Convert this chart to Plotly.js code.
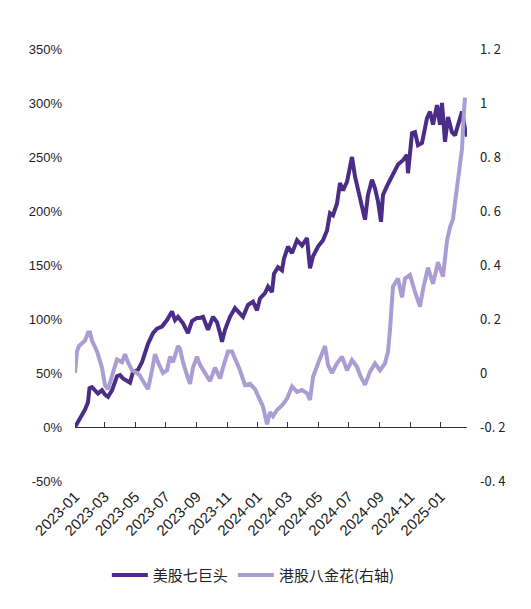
<!DOCTYPE html>
<html>
<head>
<meta charset="utf-8">
<script src="https://cdn.plot.ly/plotly-3.0.1.min.js"></script>
<style>
html,body{margin:0;padding:0;background:#fff;}
#chart{width:531px;height:609px;}
</style>
</head>
<body>
<div id="chart"></div>
<script>
// 美股七巨头 (left axis, %)
const usDates = ['2023-01-01','2023-01-11','2023-01-21','2023-01-27','2023-01-30','2023-02-04','2023-02-10','2023-02-16','2023-02-24','2023-03-02','2023-03-08','2023-03-16','2023-03-26','2023-04-01','2023-04-07','2023-04-15','2023-04-21','2023-04-27','2023-05-07','2023-05-15','2023-05-21','2023-05-27','2023-06-06','2023-06-14','2023-06-24','2023-07-04','2023-07-14','2023-07-20','2023-07-26','2023-08-05','2023-08-15','2023-08-23','2023-09-02','2023-09-08','2023-09-14','2023-09-24','2023-10-04','2023-10-12','2023-10-18','2023-10-22','2023-10-28','2023-11-07','2023-11-17','2023-11-27','2023-12-03','2023-12-13','2023-12-23','2023-12-31','2024-01-06','2024-01-16','2024-01-22','2024-01-30','2024-02-03','2024-02-11','2024-02-19','2024-02-23','2024-03-02','2024-03-10','2024-03-20','2024-03-30','2024-04-09','2024-04-15','2024-04-21','2024-05-01','2024-05-11','2024-05-19','2024-05-25','2024-05-31','2024-06-08','2024-06-14','2024-06-20','2024-06-28','2024-07-04','2024-07-08','2024-07-14','2024-07-20','2024-07-26','2024-08-03','2024-08-09','2024-08-17','2024-08-23','2024-08-29','2024-09-04','2024-09-08','2024-09-18','2024-09-28','2024-10-08','2024-10-18','2024-10-26','2024-10-28','2024-11-01','2024-11-05','2024-11-11','2024-11-17','2024-11-25','2024-12-01','2024-12-05','2024-12-11','2024-12-17','2024-12-25','2024-12-31','2025-01-04','2025-01-10','2025-01-16','2025-01-24','2025-01-30','2025-02-05','2025-02-13','2025-02-19','2025-02-23'];
const usValues = [0,8,16,23,36,37,34,31,34,30,28,34,47,48,45,43,41,51,53,60,70,77,87,91,93,99,107,99,102,96,87,98,101,101,102,90,102,97,87,79,90,102,110,105,102,113,116,108,119,124,130,125,142,148,145,156,167,161,173,168,175,147,158,167,173,182,198,196,207,226,219,227,239,250,232,220,205,192,215,229,221,209,190,215,225,235,243,247,252,235,255,272,273,261,263,276,286,292,280,298,280,300,264,287,273,270,280,292,276,269];

// 港股八金花 (right axis)
const hkDates = ['2023-01-01','2023-01-05','2023-01-09','2023-01-15','2023-01-21','2023-01-27','2023-01-31','2023-02-04','2023-02-14','2023-02-24','2023-03-02','2023-03-08','2023-03-16','2023-03-26','2023-04-05','2023-04-11','2023-04-17','2023-04-25','2023-05-05','2023-05-11','2023-05-17','2023-05-27','2023-06-04','2023-06-10','2023-06-16','2023-06-26','2023-07-04','2023-07-10','2023-07-16','2023-07-26','2023-07-30','2023-08-05','2023-08-15','2023-08-19','2023-08-25','2023-09-02','2023-09-08','2023-09-18','2023-09-28','2023-10-08','2023-10-18','2023-10-24','2023-11-03','2023-11-11','2023-11-17','2023-11-27','2023-12-07','2023-12-17','2023-12-27','2024-01-06','2024-01-12','2024-01-20','2024-01-26','2024-02-01','2024-02-09','2024-02-19','2024-02-29','2024-03-10','2024-03-20','2024-03-30','2024-04-09','2024-04-15','2024-04-21','2024-05-01','2024-05-07','2024-05-15','2024-05-21','2024-05-29','2024-06-08','2024-06-18','2024-06-28','2024-07-08','2024-07-18','2024-07-24','2024-08-03','2024-08-13','2024-08-23','2024-09-02','2024-09-12','2024-09-18','2024-09-22','2024-09-28','2024-10-08','2024-10-16','2024-10-22','2024-11-01','2024-11-11','2024-11-21','2024-11-27','2024-12-07','2024-12-17','2024-12-27','2025-01-06','2025-01-14','2025-01-20','2025-01-26','2025-01-30','2025-02-05','2025-02-13','2025-02-16','2025-02-19'];
const hkValues = [0.0,0.08,0.10,0.11,0.12,0.15,0.15,0.12,0.08,0.02,-0.045,-0.06,-0.01,0.05,0.04,0.07,0.04,0.01,0.0,-0.01,-0.03,-0.06,0.01,0.07,0.04,0.0,0.01,0.06,0.04,0.10,0.09,0.04,-0.02,-0.04,0.02,0.06,0.03,0.0,-0.03,0.02,-0.02,0.02,0.08,0.08,0.055,0.01,-0.045,-0.04,-0.06,-0.105,-0.125,-0.19,-0.145,-0.16,-0.137,-0.12,-0.095,-0.05,-0.07,-0.063,-0.075,-0.1,-0.015,0.035,0.06,0.10,0.03,0.0,0.036,0.06,0.01,0.048,0.023,-0.007,-0.044,0.005,0.036,0.01,0.036,0.079,0.16,0.32,0.35,0.28,0.35,0.363,0.30,0.246,0.31,0.39,0.33,0.41,0.357,0.49,0.54,0.57,0.63,0.73,0.83,0.94,1.02];

const seriesNames = ['美股七巨头','港股八金花(右轴)'];
const leftTickVals = [-50,0,50,100,150,200,250,300,350];
const leftTickText = ['-50%','0%','50%','100%','150%','200%','250%','300%','350%'];
const rightTickVals = [-0.4,-0.2,0,0.2,0.4,0.6,0.8,1.0,1.2];
const rightTickText = ['-0. 4','-0. 2','0','0. 2','0. 4','0. 6','0. 8','1','1. 2'];
const xRange = ['2023-01-01','2025-02-23'];

const darkColor = '#4b2c86';
const lightColor = '#a99dd3';

const traces = [
  {x: usDates, y: usValues, name: seriesNames[0], type: 'scatter', mode: 'lines',
   line: {color: darkColor, width: 4}, yaxis: 'y', xaxis: 'x', hoverinfo: 'skip'},
  {x: hkDates, y: hkValues, name: seriesNames[1], type: 'scatter', mode: 'lines',
   line: {color: lightColor, width: 4}, yaxis: 'y2', xaxis: 'x', hoverinfo: 'skip'},
  {x: [usDates[0]], y: [null], xaxis: 'x2', yaxis: 'y', showlegend: false,
   type: 'scatter', mode: 'lines', hoverinfo: 'skip'}
];

const layout = {
  width: 531, height: 609,
  margin: {l: 75, r: 64, t: 49, b: 128},
  paper_bgcolor: '#fff', plot_bgcolor: '#fff',
  showlegend: true,
  legend: {orientation: 'h', x: 0.455, xanchor: 'center', y: -0.218, yanchor: 'middle',
           font: {family: '"Noto Sans CJK SC", sans-serif', size: 15, color: '#222'},
           itemwidth: 36, tracegroupgap: 0},
  xaxis: {type: 'date', range: xRange, tick0: '2023-01-01', dtick: 'M2', tickformat: '%Y-%m',
          tickangle: -45, showgrid: false, zeroline: false, showline: false, ticks: '',
          ticklabelstandoff: 3,
          tickfont: {family: 'Liberation Sans, Arial, sans-serif', size: 15, color: '#222'}},
  xaxis2: {type: 'date', range: xRange, tick0: '2023-01-01', dtick: 'M2', overlaying: 'x',
           anchor: 'free', position: 0.125, side: 'bottom', showticklabels: false,
           ticks: 'inside', ticklen: 5, tickcolor: '#333', tickwidth: 1,
           showline: true, linecolor: '#333', linewidth: 1, showgrid: false, zeroline: false},
  yaxis: {range: [-50, 350], tickmode: 'array', tickvals: leftTickVals, ticktext: leftTickText,
          showgrid: false, zeroline: false, showline: false, ticks: '', ticklabelstandoff: 12,
          tickfont: {family: 'Liberation Sans, Arial, sans-serif', size: 13, color: '#222'}},
  yaxis2: {range: [-0.4, 1.2], overlaying: 'y', side: 'right', tickmode: 'array',
           tickvals: rightTickVals, ticktext: rightTickText, showgrid: false, zeroline: false,
           showline: false, ticks: '', ticklabelstandoff: 12,
           tickfont: {family: '"Noto Sans CJK SC", sans-serif', size: 13, color: '#222'}}
};

Plotly.newPlot('chart', traces, layout, {displayModeBar: false, staticPlot: true});
</script>
</body>
</html>
